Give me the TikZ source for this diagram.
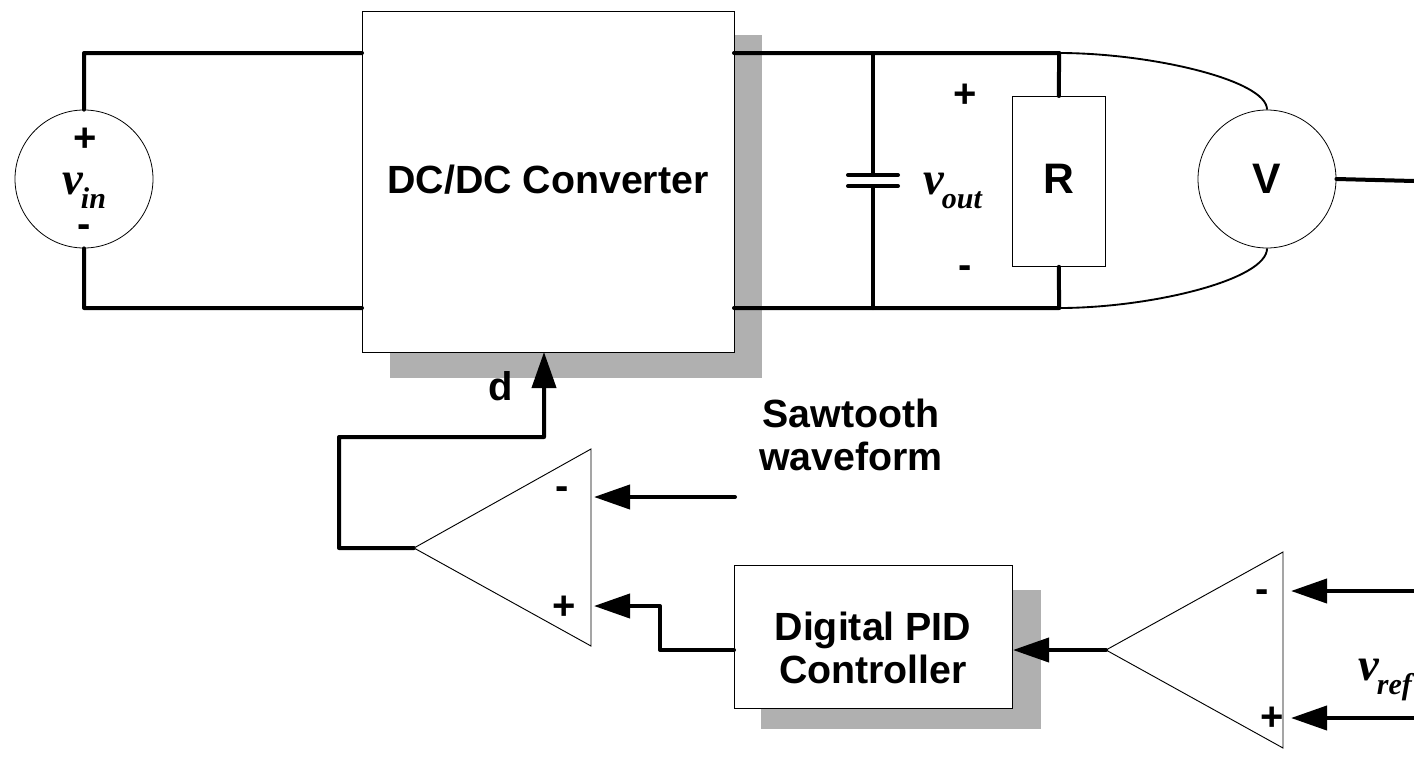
\documentclass[tikz,border=0pt]{standalone}
\usepackage{fontspec}
\setmainfont{Liberation Sans}
\newfontfamily\ser{Liberation Serif}
\usetikzlibrary{arrows.meta}
\tikzset{
 wire/.style={line width=3pt,line cap=round,line join=round},
 thin box/.style={draw=black,line width=0.6pt,fill=white},
 shadow/.style={fill=black!31,draw=none},
 arr/.style={wire,-{Triangle[length=27pt,width=18pt]}},
 lab/.style={font=\fontsize{29.5pt}{32pt}\selectfont\bfseries,align=center,inner sep=0pt},
 big/.style={font=\fontsize{29.5pt}{34pt}\selectfont\bfseries,align=center,inner sep=0pt},
 sym/.style={font=\fontsize{30pt}{32pt}\selectfont\bfseries,inner sep=0pt},
 math/.style={font=\ser\fontsize{35pt}{36pt}\selectfont\bfseries\itshape,inner sep=0pt,anchor=base west},
 thinw/.style={line width=0.7pt},
 curve/.style={line width=1.4pt}
}
\newcommand{\Sb}[2]{#1\kern-1.5pt\raisebox{-11pt}{\fontsize{22.5pt}{24pt}\selectfont #2}}
\begin{document}
\begin{tikzpicture}[x=1pt,y=-1pt,scale=0.75]
\useasboundingbox (0,0) rectangle (1414,757);
\fill[white] (0,0) rectangle (1414,757);
% shadows
\fill[shadow] (390,35) rectangle (762,378);
\fill[shadow] (761,590) rectangle (1041,729);
\coordinate (lt) at (84,53);
\coordinate (lb) at (84,308);
\coordinate (rt) at (1059,53);
\coordinate (rb) at (1059,308);
\node[thin box,minimum width=372pt*0.75,minimum height=341pt*0.75,anchor=north west,inner sep=0pt] (conv) at (362,11) {};
\node[big] (convt) at (548,180) {DC/DC Converter};
\node[draw,line width=0.6pt,fill=white,circle,minimum size=138pt*0.75,inner sep=0pt] (vin) at (84,179) {};
\draw[wire] (vin.north) -- (lt) -- (362,53);
\draw[wire] (vin.south) -- (lb) -- (362,308);
\draw[wire] (734,53) -- (rt);
\draw[wire] (734,308) -- (rb);
\node[sym] (vp) at (85,140) {+};
\node[sym] (vm) at (84,231) {-};
\node[math] (vint) at (62,194) {\Sb{v}{in}};
% capacitor
\coordinate (ct) at (873,53);
\coordinate (cb) at (873,308);
\coordinate (c1) at (873,175);
\coordinate (c2) at (873,186);
\draw[wire] (ct) -- (c1);
\draw[wire] (c2) -- (cb);
\draw[wire] (848,175) -- (898,175);
\draw[wire] (848,186) -- (898,186);
% R
\node[thin box,minimum width=93pt*0.75,minimum height=170pt*0.75,inner sep=0pt,anchor=north west] (R) at (1012,96) {};
\node[big,font=\fontsize{32pt}{34pt}\selectfont\bfseries] (Rt) at (1059,179) {R};
\draw[wire] (rt) -- (R.north);
\draw[wire] (R.south) -- (rb);
\node[sym] (op) at (965,96) {+};
\node[sym] (om) at (965,272) {-};
\node[math] (voutt) at (923,194) {\Sb{v}{out}};
% V
\node[draw,line width=0.6pt,fill=white,circle,minimum size=138pt*0.75,inner sep=0pt] (V) at (1267,179) {};
\node[big,font=\fontsize{32pt}{34pt}\selectfont\bfseries] (Vt) at (1267,179) {V};
\draw[curve] (rt) .. controls (1150,53) and (1267,80) .. (V.north);
\draw[curve] (rb) .. controls (1150,308) and (1267,280) .. (V.south);
\draw[wire] (V.east) -- (1414,181);
% d
\node[lab,font=\fontsize{30pt}{32pt}\selectfont\bfseries] (dt) at (501,386) {d};
\coordinate (a1) at (339,548);
\coordinate (a2) at (339,437);
\coordinate (a3) at (544,437);
\draw[arr] (414,548) -- (a1) -- (a2) -- (a3) -- (544,352);
% comparator
\draw[thinw,fill=white] (414,548) -- (591,449) -- (591,646) -- cycle;
\node[sym] (cm) at (562,493) {-};
\node[sym] (cp) at (564,608) {+};
\draw[arr] (735,497) -- (594,497);
\node[lab] (saw) at (851,435) {Sawtooth\\waveform};
% PID
\node[thin box,minimum width=278pt*0.75,minimum height=143pt*0.75,inner sep=0pt,anchor=north west] (pid) at (734,565) {};
\node[lab] (pidt) at (873,648) {Digital PID\\Controller};
\draw[arr] (734,650) -- (660,650) -- (660,606) -- (594,606);
% error amp
\draw[thinw,fill=white] (1106,650) -- (1283,552) -- (1283,748) -- cycle;
\draw[arr] (1106,650) -- (1013,650);
\node[sym] (em) at (1262,596) {-};
\node[sym] (ep) at (1272,719) {+};
\draw[arr] (1414,591) -- (1291,591);
\draw[arr] (1414,718) -- (1291,718);
\node[math] (vr) at (1358,680) {\Sb{v}{ref}};
\end{tikzpicture}
\end{document}
